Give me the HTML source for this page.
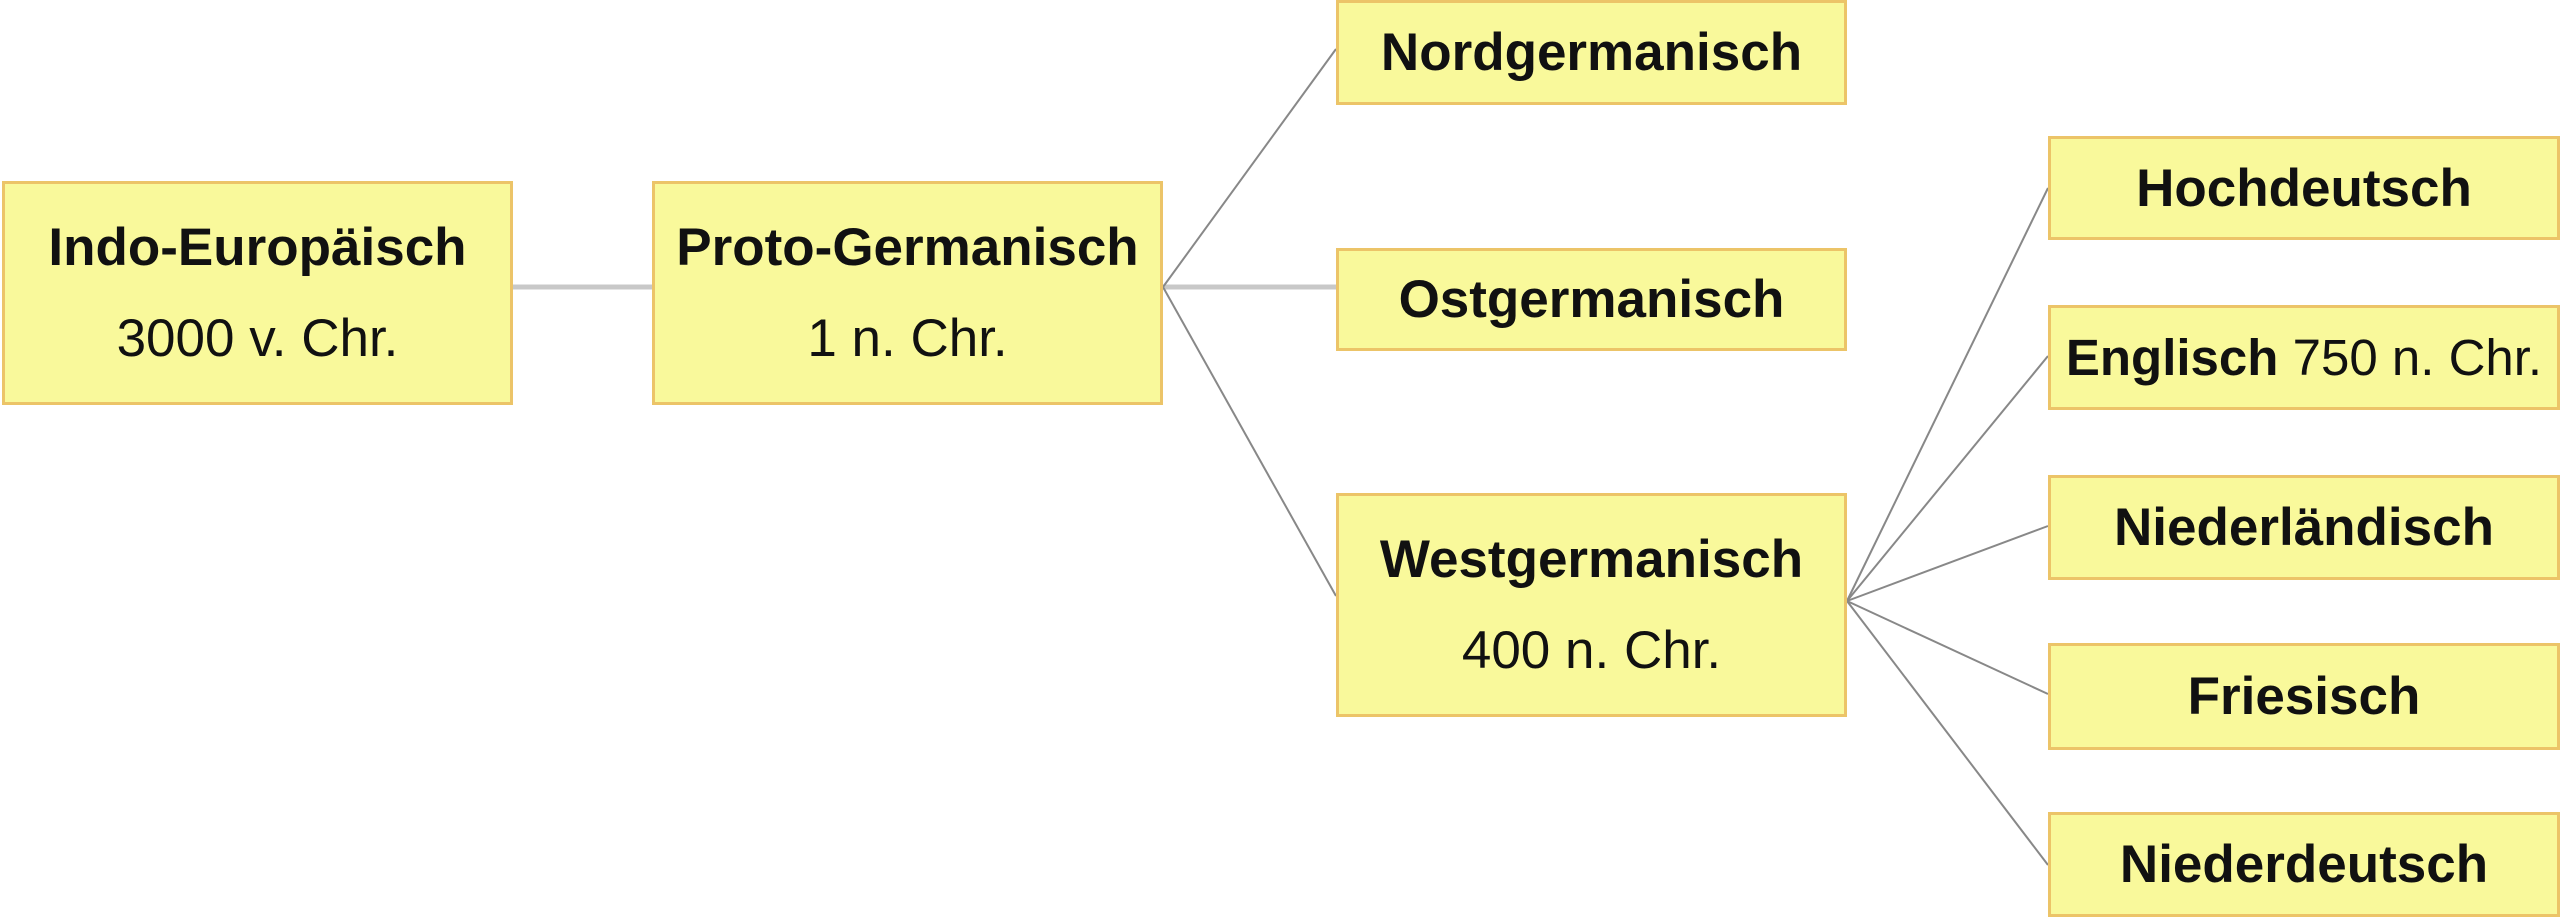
<!DOCTYPE html>
<html><head><meta charset="utf-8"><style>
html,body{margin:0;padding:0;background:#fff;}
body{width:2560px;height:917px;position:relative;overflow:hidden;font-family:"Liberation Sans",Arial,sans-serif;color:#111;}
.b{position:absolute;background:#f9f99b;border:3px solid #ecc468;box-sizing:border-box;display:flex;flex-direction:column;justify-content:center;align-items:center;}
.t{font-weight:bold;font-size:53px;line-height:1;}
.s{font-size:53px;line-height:1;margin-top:38px;}
svg{position:absolute;left:0;top:0;}
</style></head><body>
<svg width="2560" height="917">
<line x1="513" y1="287" x2="652" y2="287" stroke="#c8c8c8" stroke-width="5"/>
<line x1="1163" y1="287" x2="1336" y2="287" stroke="#c8c8c8" stroke-width="5"/>
<line x1="1163" y1="287" x2="1336" y2="49" stroke="#888" stroke-width="2"/>
<line x1="1163" y1="287" x2="1336" y2="596" stroke="#888" stroke-width="2"/>
<g stroke="#888" stroke-width="2">
<line x1="1847" y1="601" x2="2048" y2="188"/>
<line x1="1847" y1="601" x2="2048" y2="356"/>
<line x1="1847" y1="601" x2="2048" y2="526"/>
<line x1="1847" y1="601" x2="2048" y2="694"/>
<line x1="1847" y1="601" x2="2048" y2="865"/>
</g>
</svg>
<div class="b" style="left:2px;top:181px;width:511px;height:224px"><div class="t">Indo-Europäisch</div><div class="s">3000 v. Chr.</div></div>
<div class="b" style="left:652px;top:181px;width:511px;height:224px"><div class="t">Proto-Germanisch</div><div class="s">1 n. Chr.</div></div>
<div class="b" style="left:1336px;top:0px;width:511px;height:105px"><div class="t">Nordgermanisch</div></div>
<div class="b" style="left:1336px;top:248px;width:511px;height:103px"><div class="t">Ostgermanisch</div></div>
<div class="b" style="left:1336px;top:493px;width:511px;height:224px"><div class="t">Westgermanisch</div><div class="s">400 n. Chr.</div></div>
<div class="b" style="left:2048px;top:136px;width:512px;height:104px"><div class="t">Hochdeutsch</div></div>
<div class="b" style="left:2048px;top:305px;width:512px;height:105px;flex-direction:row;white-space:nowrap"><span class="t" style="font-size:51px">Englisch</span><span style="font-size:51px">&nbsp;750 n. Chr.</span></div>
<div class="b" style="left:2048px;top:475px;width:512px;height:105px"><div class="t">Niederländisch</div></div>
<div class="b" style="left:2048px;top:643px;width:512px;height:107px"><div class="t">Friesisch</div></div>
<div class="b" style="left:2048px;top:812px;width:512px;height:105px"><div class="t">Niederdeutsch</div></div>
</body></html>
